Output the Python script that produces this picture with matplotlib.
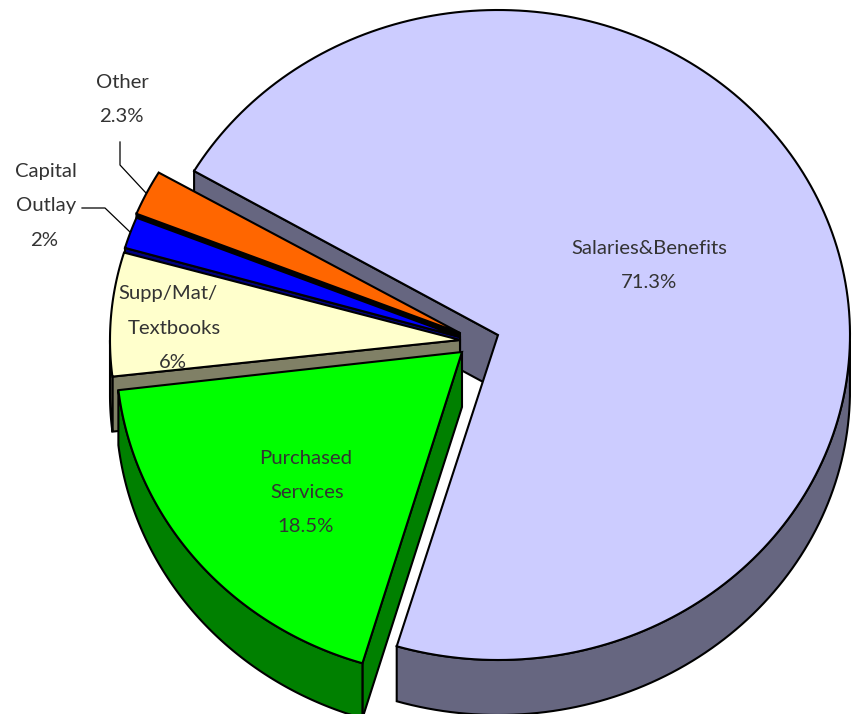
import numpy as np
import matplotlib
matplotlib.use("Agg")
import matplotlib.pyplot as plt
from matplotlib.patches import Polygon

# ---- data ----
categories = ["Salaries&Benefits", "Purchased\nServices", "Supp/Mat/\nTextbooks", "Capital\nOutlay", "Other"]
shares = [71.3, 18.5, 6.4, 1.6, 2.3]
share_labels = ["71.3%", "18.5%", "6%", "2%", "2.3%"]

top_colors = ["#CCCCFF", "#00FF00", "#FFFFCC", "#0000FF", "#FF6600"]
side_colors = ["#666680", "#008000", "#808066", "#000080", "#000000"]
centers = [(498, 335), (462, 352), (460, 340), (460, 337), (460, 333)]
radii_x = [352, 346, 350, 349, 349]
radii_y = [325, 325, 312, 318, 318]

START = 149.7     # ellipse angle where the first slice starts, clockwise after
DEPTH = 55.0
LW = 1.5

plt.rcParams["font.family"] = ["Lato", "DejaVu Sans"]

fig = plt.figure(figsize=(8.55, 7.14), dpi=100)
ax = fig.add_axes([0, 0, 1, 1])
ax.set_xlim(0, 855)
ax.set_ylim(714, 0)
ax.axis("off")

total = sum(shares)
ends = START - np.cumsum(shares) / total * 360.0
starts = np.concatenate([[START], ends[:-1]])


def pt(c, rx, ry, t, dz=0.0):
    r = np.radians(t)
    return np.column_stack([c[0] + rx * np.cos(r), c[1] - ry * np.sin(r) + dz])


def slice3d(c, rx, ry, t0, t1, top, side, z):
    ts = np.linspace(t0, t1, 200)
    # radial wall at the slice's leading edge (the one facing the viewer)
    p = pt(c, rx, ry, t0)[0]
    quad = [c, p, (p[0], p[1] + DEPTH), (c[0], c[1] + DEPTH)]
    ax.add_patch(Polygon(quad, closed=True, fc=side, ec="black", lw=LW, joinstyle="miter", zorder=z))
    # outer rim (front-facing part only)
    front = ts[np.sin(np.radians(ts)) < 0]
    if len(front) > 1:
        upper = pt(c, rx, ry, front)
        lower = pt(c, rx, ry, front, DEPTH)[::-1]
        ax.add_patch(Polygon(np.vstack([upper, lower]), closed=True, fc=side, ec="black", lw=LW, zorder=z + 0.1))
    # top face
    ax.add_patch(Polygon(np.vstack([[c], pt(c, rx, ry, ts)]), closed=True, fc=top, ec="black", lw=LW,
                         joinstyle="miter", zorder=z + 0.2))


draw_order = [0, 4, 3, 2, 1]
for n, i in enumerate(draw_order):
    slice3d(centers[i], radii_x[i], radii_y[i], starts[i], ends[i], top_colors[i], side_colors[i], 2 + n)

TXT = dict(ha="center", va="center", fontsize=14.6, color="#333333", zorder=20)


def label(x, y, s):
    ax.text(x, y, s, **TXT)


label(649, 249, categories[0])
label(649, 283, share_labels[0])
purch = categories[1].split("\n")
label(306, 458, purch[0])
label(307, 492, purch[1])
label(306, 526, share_labels[1])
supp = categories[2].split("\n")
label(168, 293, supp[0])
label(174, 328, supp[1])
label(173, 363, share_labels[2])
cap = categories[3].split("\n")
label(46, 172, cap[0])
label(46, 206, cap[1])
label(44, 240, share_labels[3])
label(122, 82, categories[4])
label(121, 116, share_labels[4])

ax.plot([120, 120, 146], [142, 165, 193], color="black", lw=0.9, zorder=15)
ax.plot([82, 105, 130], [208, 208, 232], color="black", lw=0.9, zorder=15)

fig.savefig("out.png", dpi=100)
